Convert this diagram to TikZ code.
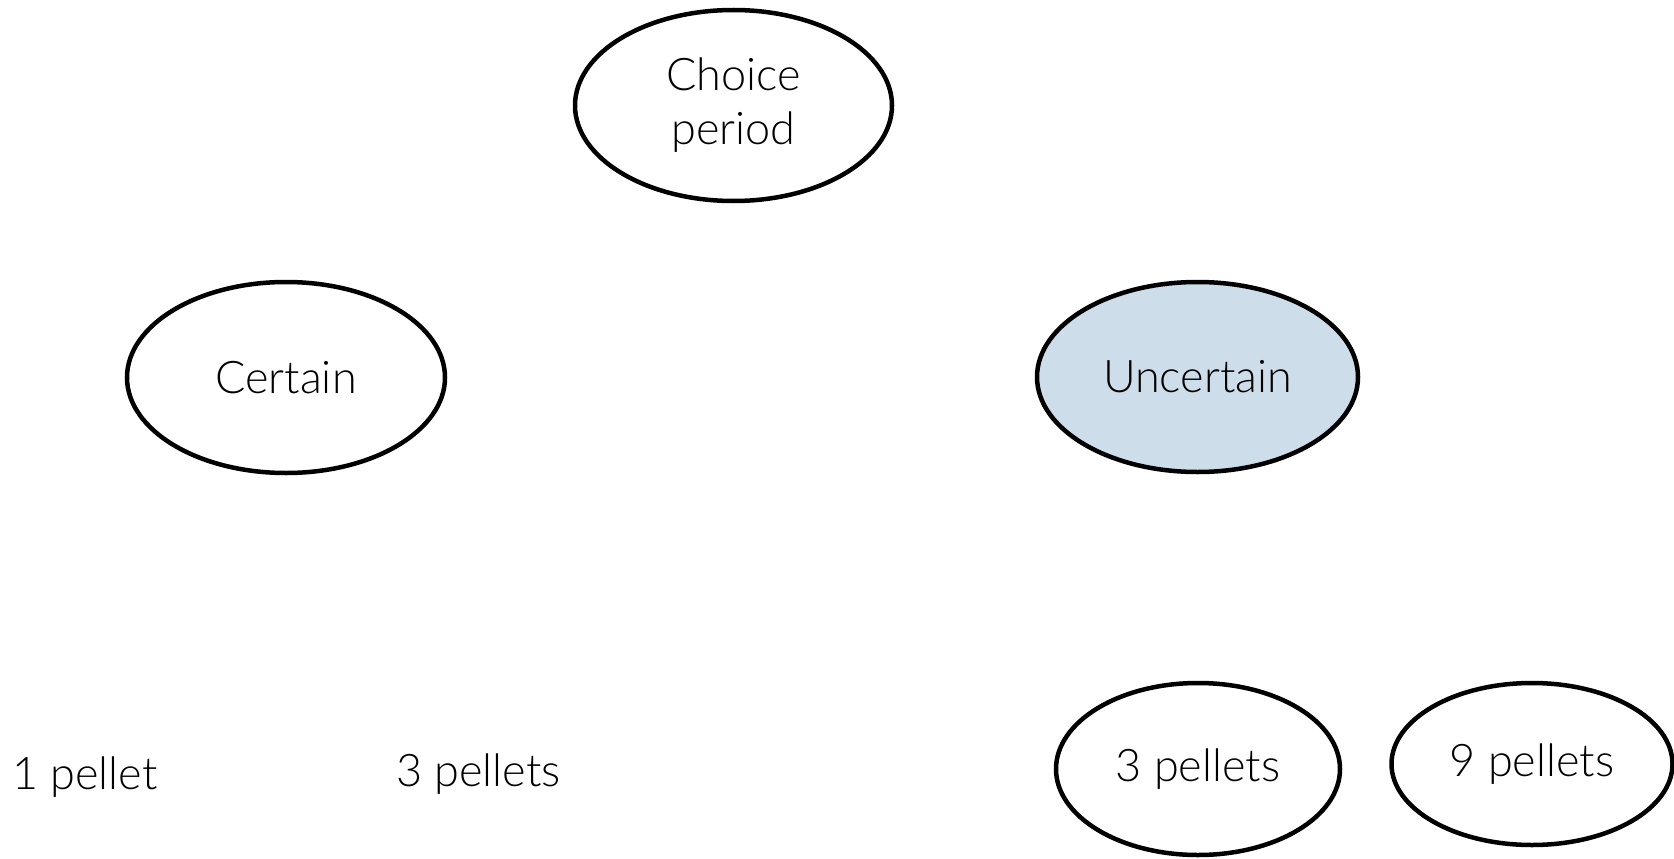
\documentclass[tikz,border=0pt]{standalone}
\usepackage{fontspec}
\setmainfont{Lato}[UprightFont={* Light}]
\usetikzlibrary{shapes.geometric}
\definecolor{ufill}{RGB}{206,221,234}
\tikzset{
  oval/.style={ellipse, draw=black, line width=4.5pt, inner sep=0pt, align=center,
    font=\fontsize{45}{54}\selectfont},
  plain/.style={inner sep=0pt, font=\fontsize{45}{54}\selectfont}
}
\begin{document}
\begin{tikzpicture}[x=1pt,y=-1pt]
\useasboundingbox (0,0) rectangle (1674,859);
\node[oval, minimum width=317pt, minimum height=191pt] (choice) at (733.5,105.5) {Choice\\period};
\node[oval, minimum width=318pt, minimum height=191pt] (certain) at (286,377.5) {Certain};
\node[oval, fill=ufill, minimum width=321pt, minimum height=190pt] (uncertain) at (1197.5,377) {Uncertain};
\node[oval, minimum width=284pt, minimum height=172pt] (threeu) at (1198,769) {3 pellets};
\node[oval, minimum width=281pt, minimum height=162pt] (nine) at (1532,764) {9 pellets};
\node[plain, anchor=base west] (one) at (12,789) {1 pellet};
\node[plain, anchor=base west] (threec) at (396,786) {3 pellets};
\end{tikzpicture}
\end{document}
